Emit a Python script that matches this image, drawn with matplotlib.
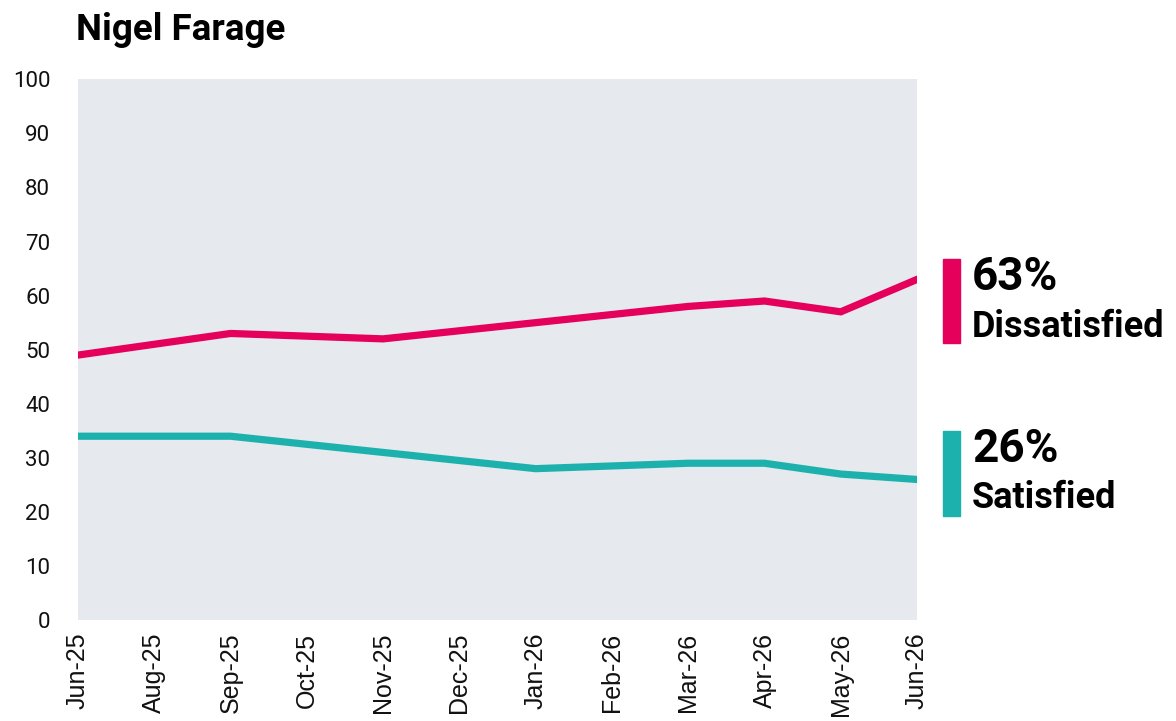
import numpy as np
import matplotlib.pyplot as plt

plt.rcParams['font.family'] = ['Roboto', 'DejaVu Sans']

# categories on the x axis (no Jul-25)
meses = ['Jun-25', 'Aug-25', 'Sep-25', 'Oct-25', 'Nov-25', 'Dec-25',
         'Jan-26', 'Feb-26', 'Mar-26', 'Apr-26', 'May-26', 'Jun-26']

# survey points (only some months have a poll)
meses_encuesta = ['Jun-25', 'Sep-25', 'Nov-25', 'Jan-26', 'Mar-26', 'Apr-26', 'May-26', 'Jun-26']
insatisfechos = [49, 53, 52, 55, 58, 59, 57, 63]
satisfechos = [34, 34, 31, 28, 29, 29, 27, 26]

rosa = '#e4005b'
verde = '#1db1ae'

x_enc = [meses.index(m) for m in meses_encuesta]

fig = plt.figure(figsize=(11.76, 7.21), dpi=100)
ax = fig.add_axes([0.0663, 0.140, 0.7135, 0.750])
ax.set_facecolor('#e6e9ee')

ax.plot(x_enc, insatisfechos, color=rosa, lw=5.2, solid_joinstyle='miter')
ax.plot(x_enc, satisfechos, color=verde, lw=5.2, solid_joinstyle='miter')

ax.set_xlim(0, len(meses) - 1)
ax.set_ylim(0, 100)
ax.set_yticks(np.arange(0, 101, 10))
ax.set_xticks(range(len(meses)))
ax.set_xticklabels(meses, rotation=90, fontsize=18, color='#111111',
                   family=['Liberation Sans', 'DejaVu Sans'])
ax.tick_params(axis='y', labelsize=16, length=0, pad=20, labelcolor='#111111')
ax.tick_params(axis='x', length=0, pad=9)
for s in ax.spines.values():
    s.set_visible(False)

fig.text(0.065, 0.945, 'Nigel Farage', fontsize=26.5, fontweight='bold', va='baseline')

# etiquetas a la derecha
fig.patches.append(plt.Rectangle((943 / 1176, 1 - 343 / 721), 17 / 1176, 84 / 721,
                                 transform=fig.transFigure, color=rosa))
fig.patches.append(plt.Rectangle((943 / 1176, 1 - 516 / 721), 17 / 1176, 85 / 721,
                                 transform=fig.transFigure, color=verde))
fig.text(972 / 1176, 1 - 290 / 721, f'{insatisfechos[-1]}%', fontsize=33, fontweight='bold', va='baseline')
fig.text(972 / 1176, 1 - 337 / 721, 'Dissatisfied', fontsize=26, fontweight='bold', va='baseline')
fig.text(972 / 1176, 1 - 462 / 721, f'{satisfechos[-1]}%', fontsize=33, fontweight='bold', va='baseline')
fig.text(972 / 1176, 1 - 508 / 721, 'Satisfied', fontsize=26, fontweight='bold', va='baseline')

fig.savefig('out.png', dpi=100)
